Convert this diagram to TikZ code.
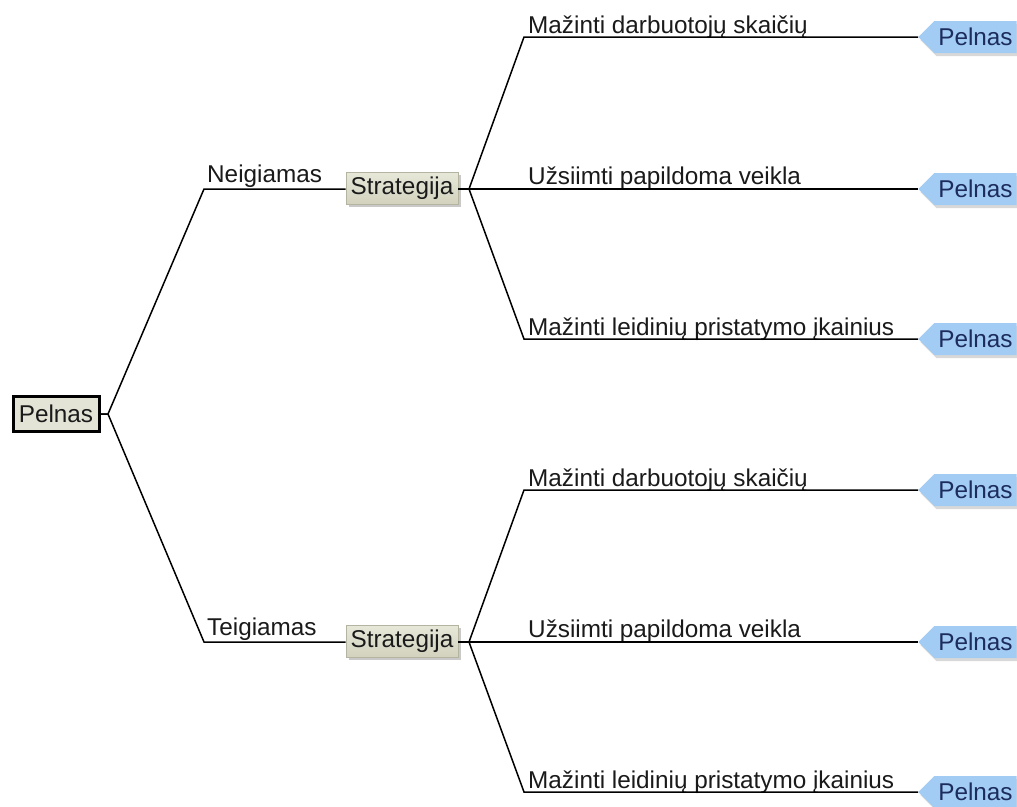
\documentclass[tikz,border=0pt]{standalone}
\usepackage{fontspec}
\setmainfont{Liberation Sans}
\usetikzlibrary{shapes.symbols,shadows}
\definecolor{rootfill}{HTML}{E4E4D6}
\definecolor{stratA}{HTML}{E8E8DA}
\definecolor{stratB}{HTML}{D2D2BE}
\definecolor{stratedge}{HTML}{B4B4A0}
\definecolor{tagblue}{HTML}{A2CCF4}
\definecolor{tagtext}{HTML}{1C2C5C}
\definecolor{txt}{HTML}{1A1A1A}
\begin{document}
\begin{tikzpicture}[x=1pt,y=-1pt,
  font=\fontsize{24.3}{28}\selectfont,
  conn/.style={draw=black, line width=1.5pt},
  rootbox/.style={draw=black, line width=3pt, fill=rootfill, minimum width=86pt, minimum height=35pt, inner sep=0pt, text=txt},
  stratbox/.style={draw=stratedge, line width=0.6pt, top color=stratA, bottom color=stratB, minimum width=112pt, minimum height=32pt, inner sep=0pt, text=txt,
    drop shadow={shadow xshift=3pt, shadow yshift=-3pt, fill=black!35, opacity=0.6}},
  tagbox/.style={shape=signal, signal to=west, signal pointer angle=90, fill=tagblue, text=tagtext, minimum height=32pt, inner xsep=4pt, inner ysep=0pt, anchor=west,
    drop shadow={shadow xshift=2pt, shadow yshift=-3pt, fill=black!30, opacity=0.5}},
  lbl/.style={anchor=base west, inner sep=0pt, text=txt}
]
\useasboundingbox (0,0) rectangle (1017,806);
\fill[white] (0,0) rectangle (1017,806);

% root
\node[rootbox] (root) at (56,414) {Pelnas};
\coordinate (j0) at (108,414);

% upper branch
\coordinate (c1) at (204,189);
\node[stratbox] (s1) at (402,188) {Strategija};
\node[lbl] (n1) at (207,182) {Neigiamas};
\coordinate (j1) at (469,189);
\coordinate (r11) at (524,37);
\coordinate (r12) at (524,189);
\coordinate (r13) at (524,339);
\node[lbl] (m11) at (528,33) {Mažinti darbuotojų skaičių};
\node[lbl] (m12) at (528,184) {Užsiimti papildoma veikla};
\node[lbl] (m13) at (528,335) {Mažinti leidinių pristatymo įkainius};
\node[tagbox] (t11) at (918,37) {Pelnas\hspace{14pt}};
\node[tagbox] (t12) at (918,189) {Pelnas\hspace{14pt}};
\node[tagbox] (t13) at (918,339) {Pelnas\hspace{14pt}};

% lower branch
\coordinate (c2) at (204,642);
\node[stratbox] (s2) at (402,641) {Strategija};
\node[lbl] (n2) at (207,635) {Teigiamas};
\coordinate (j2) at (469,642);
\coordinate (r21) at (524,490);
\coordinate (r22) at (524,642);
\coordinate (r23) at (524,792);
\node[lbl] (m21) at (528,486) {Mažinti darbuotojų skaičių};
\node[lbl] (m22) at (528,637) {Užsiimti papildoma veikla};
\node[lbl] (m23) at (528,788) {Mažinti leidinių pristatymo įkainius};
\node[tagbox] (t21) at (918,490) {Pelnas\hspace{14pt}};
\node[tagbox] (t22) at (918,642) {Pelnas\hspace{14pt}};
\node[tagbox] (t23) at (918,792) {Pelnas\hspace{14pt}};

% connectors
\draw[conn] (root.east) -- (j0) -- (c1) -- (s1.west |- c1);
\draw[conn] (root.east) -- (j0) -- (c2) -- (s2.west |- c2);
\foreach \s/\j/\a/\b/\c in {s1/j1/11/12/13, s2/j2/21/22/23}{
  \draw[conn] (\s.east |- \j) -- (\j);
  \draw[conn] (\j) -- (r\a) -- (t\a.west);
  \draw[conn] (\j) -- (r\b) -- (t\b.west);
  \draw[conn] (\j) -- (r\c) -- (t\c.west);
}
\end{tikzpicture}
\end{document}
